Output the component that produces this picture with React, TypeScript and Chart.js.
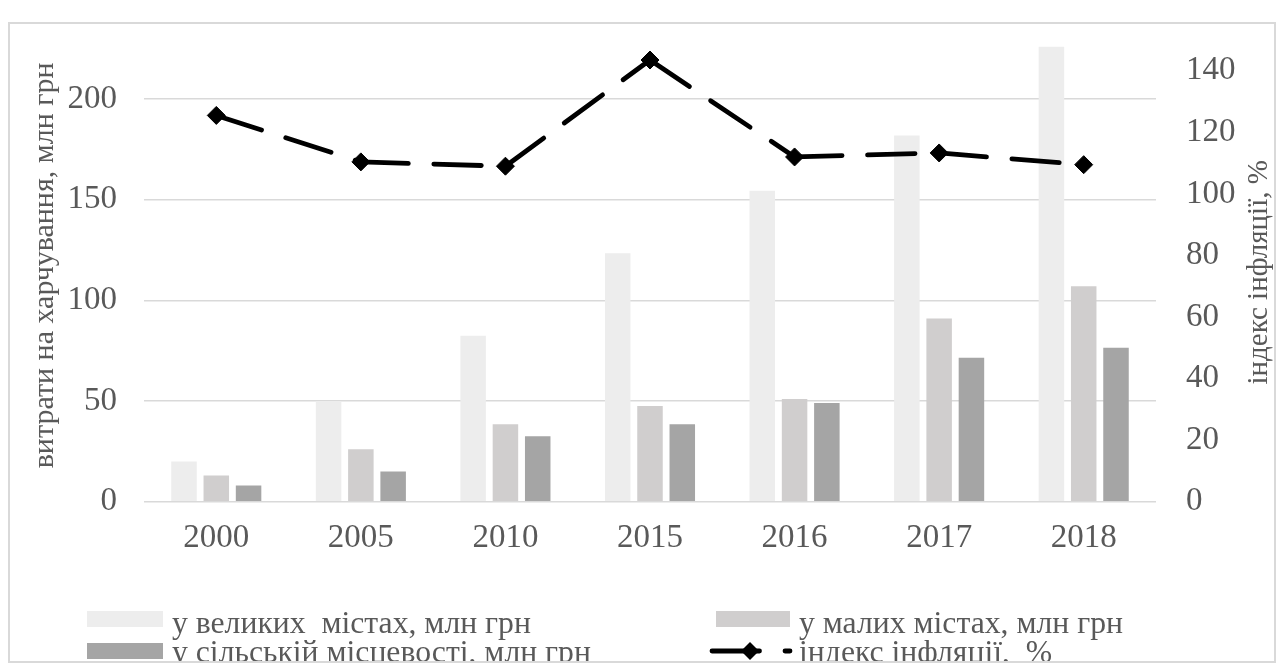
import { useEffect, useRef } from 'react';
import { Chart, registerables } from 'chart.js';

Chart.register(...registerables);

const categories = ['2000', '2005', '2010', '2015', '2016', '2017', '2018'];
const bigCities = [20, 50, 82.5, 123.5, 154.5, 182, 226];
const smallTowns = [13, 26, 38.5, 47.5, 51, 91, 107];
const rural = [8, 15, 32.5, 38.5, 49, 71.5, 76.5];
const inflation = [125.5, 110.4, 109, 143.5, 112, 113.3, 109.5];

const seriesLabels = [
  'у великих  містах, млн грн',
  'у малих містах, млн грн',
  'у сільській місцевості, млн грн',
  'індекс інфляції,  %',
];
const seriesColors = ['#EDEDED', '#D0CECE', '#A5A5A5', '#000000'];
const leftTicks = [0, 50, 100, 150, 200];
const rightTicks = [0, 20, 40, 60, 80, 100, 120, 140];
const leftTitle = 'витрати на харчування, млн грн';
const rightTitle = 'індекс інфляції, %';

const FONT = '"Liberation Serif", "Times New Roman", serif';
const TEXT = '#595959';
const LINE_DASH = [47.5, 25.5];

const decorPlugin = {
  id: 'decor',
  afterDraw(chart: any) {
    const { ctx, chartArea } = chart;
    const cy = (chartArea.top + chartArea.bottom) / 2 + 1.5;
    ctx.save();
    ctx.fillStyle = TEXT;
    ctx.textAlign = 'center';
    ctx.textBaseline = 'alphabetic';
    // left axis title
    ctx.font = `30px ${FONT}`;
    ctx.save();
    ctx.translate(43, cy - 7);
    ctx.rotate(-Math.PI / 2);
    ctx.fillText(leftTitle, 0, 0);
    ctx.restore();
    // right axis title
    ctx.font = `29px ${FONT}`;
    ctx.save();
    ctx.translate(1257, cy);
    ctx.rotate(-Math.PI / 2);
    ctx.fillText(rightTitle, 0, 0);
    ctx.restore();

    // legend
    ctx.font = `31.7px ${FONT}`;
    ctx.textAlign = 'left';
    const ds = chart.data.datasets;
    const cols = [
      { box: 77, w: 76, text: 162 },
      { box: 706, w: 74, text: 789 },
    ];
    const rows = [{ boxY: 587, base: 609, lineY: 595 }, { boxY: 619, base: 638, lineY: 627 }];
    const order = [1, 2, 3, 0];
    order.forEach((dsIndex, i) => {
      const d = ds[dsIndex];
      const c = cols[i % 2];
      const r = rows[Math.floor(i / 2)];
      if (d.type === 'line') {
        ctx.save();
        ctx.strokeStyle = d.borderColor;
        ctx.lineWidth = d.borderWidth;
        ctx.lineCap = 'round';
        ctx.setLineDash(LINE_DASH);
        ctx.beginPath();
        ctx.moveTo(c.box - 4, r.lineY);
        ctx.lineTo(c.box + c.w, r.lineY);
        ctx.stroke();
        ctx.setLineDash([]);
        const mx = c.box + 34;
        const rr = 9;
        ctx.fillStyle = d.pointBackgroundColor;
        ctx.beginPath();
        ctx.moveTo(mx, r.lineY - rr);
        ctx.lineTo(mx + rr, r.lineY);
        ctx.lineTo(mx, r.lineY + rr);
        ctx.lineTo(mx - rr, r.lineY);
        ctx.closePath();
        ctx.fill();
        ctx.restore();
      } else {
        ctx.fillStyle = d.backgroundColor;
        ctx.fillRect(c.box, r.boxY, c.w, 16);
      }
      ctx.fillStyle = TEXT;
      ctx.fillText(d.label, c.text, r.base);
    });
    ctx.restore();
  },
};

export default function App() {
  const ref = useRef<HTMLCanvasElement | null>(null);

  useEffect(() => {
    if (!ref.current) return;
    const chart = new Chart(ref.current, {
      type: 'bar',
      data: {
        labels: categories,
        datasets: [
          {
            type: 'line',
            label: seriesLabels[3],
            data: inflation,
            yAxisID: 'y1',
            order: 0,
            borderColor: seriesColors[3],
            borderWidth: 4.8,
            borderDash: LINE_DASH,
            borderCapStyle: 'round',
            pointStyle: 'rectRot',
            pointRadius: 9,
            pointBackgroundColor: seriesColors[3],
            pointBorderColor: seriesColors[3],
            pointBorderWidth: 1,
            tension: 0,
            segment: {
              borderDashOffset: (c: any) => (c.p0DataIndex % 2) * 0.001,
            },
          } as any,
          {
            type: 'bar',
            label: seriesLabels[0],
            data: bigCities,
            yAxisID: 'y',
            order: 1,
            backgroundColor: seriesColors[0],
            borderWidth: 0,
          },
          {
            type: 'bar',
            label: seriesLabels[1],
            data: smallTowns,
            yAxisID: 'y',
            order: 1,
            backgroundColor: seriesColors[1],
            borderWidth: 0,
          },
          {
            type: 'bar',
            label: seriesLabels[2],
            data: rural,
            yAxisID: 'y',
            order: 1,
            backgroundColor: seriesColors[2],
            borderWidth: 0,
          },
        ],
      },
      options: {
        animation: false,
        responsive: true,
        maintainAspectRatio: false,
        datasets: {
          bar: { categoryPercentage: 0.67, barPercentage: 0.79 },
        },
        layout: { padding: { top: 16, left: 0, right: 0, bottom: 0 } },
        plugins: {
          legend: { display: false },
          tooltip: { enabled: false },
          title: { display: false },
        },
        scales: {
          x: {
            grid: { display: false, drawTicks: false },
            border: { display: false },
            ticks: {
              color: TEXT,
              font: { family: FONT, size: 33, lineHeight: 1 },
              padding: 20,
              maxRotation: 0,
            },
            afterFit: (s: any) => {
              s.height = 159.3;
            },
          },
          y: {
            position: 'left',
            min: 0,
            max: 229.4,
            grid: { color: '#D9D9D9', lineWidth: 1.5, drawTicks: false },
            border: { display: false },
            ticks: {
              color: TEXT,
              font: { family: FONT, size: 33, lineHeight: 1 },
              padding: 27,
              includeBounds: false,
            },
            afterBuildTicks: (s: any) => {
              s.ticks = leftTicks.map((v) => ({ value: v }));
            },
            afterFit: (s: any) => {
              s.width = 134;
              s.paddingTop = 0;
              s.paddingBottom = 0;
            },
          },
          y1: {
            position: 'right',
            min: 0,
            max: 150,
            grid: { display: false, drawTicks: false },
            border: { display: false },
            ticks: {
              color: TEXT,
              font: { family: FONT, size: 33, lineHeight: 1 },
              padding: 30,
              includeBounds: false,
            },
            afterBuildTicks: (s: any) => {
              s.ticks = rightTicks.map((v) => ({ value: v }));
            },
            afterFit: (s: any) => {
              s.width = 118;
              s.paddingTop = 0;
              s.paddingBottom = 0;
            },
          },
        },
      },
      plugins: [decorPlugin],
    });
    return () => chart.destroy();
  }, []);

  return (
    <div
      style={{
        position: 'absolute',
        left: 8,
        top: 22,
        width: 1268,
        height: 641,
        border: '2px solid #D9D9D9',
        boxSizing: 'border-box',
        overflow: 'hidden',
        background: '#fff',
      }}
    >
      <div style={{ position: 'relative', width: 1264, height: 637 }}>
        <canvas ref={ref} />
      </div>
    </div>
  );
}
